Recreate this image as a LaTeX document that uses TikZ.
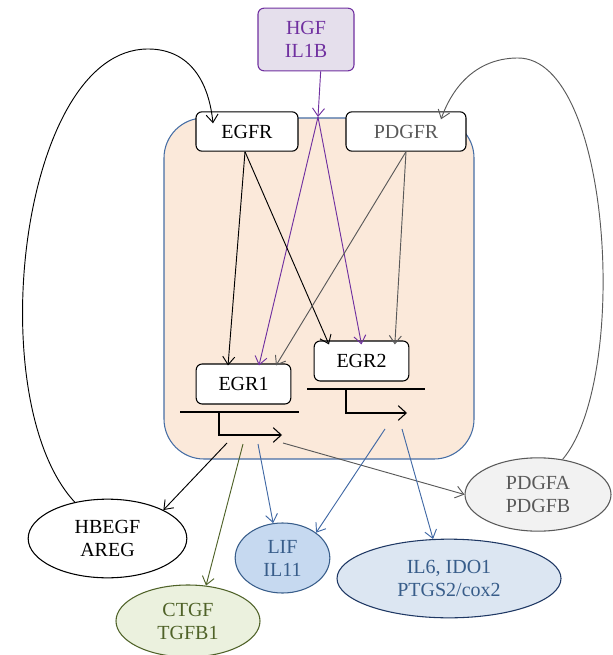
\documentclass[tikz,border=0pt]{standalone}
\usepackage{fontspec}
\setmainfont{Liberation Serif}
\usetikzlibrary{arrows.meta,shapes.geometric}

\definecolor{hgfpurple}{RGB}{112,48,160}
\definecolor{hgffill}{RGB}{229,223,236}
\definecolor{cellfill}{RGB}{251,233,218}
\definecolor{cellline}{RGB}{70,110,165}
\definecolor{pdgfgray}{RGB}{89,89,89}
\definecolor{pdgffill}{RGB}{242,242,242}
\definecolor{ctgfolive}{RGB}{79,98,40}
\definecolor{ctgffill}{RGB}{235,241,222}
\definecolor{lifblue}{RGB}{56,93,138}
\definecolor{liffill}{RGB}{198,217,240}
\definecolor{ilfill}{RGB}{220,230,242}
\definecolor{illine}{RGB}{31,56,100}
\definecolor{arrowblue}{RGB}{65,105,165}

\tikzset{
  sig/.style={-{Straight Barb[length=6pt,width=9pt]},line width=0.7pt},
  recbox/.style={draw,line width=0.8pt,rounded corners=4.5pt,fill=white,inner sep=0pt},
  ligand/.style={ellipse,draw,line width=0.8pt,inner sep=0pt,align=center},
  gene/.style={line width=0.8pt}
}

\begin{document}
\begin{tikzpicture}[x=0.75pt,y=0.75pt,yscale=-1,xscale=1,font=\fontsize{15}{17.25}\selectfont]
\useasboundingbox (0,0) rectangle (612,655);

%Shape: Rounded Rect (cell)
\draw [cellline,fill=cellfill,line width=0.8pt,rounded corners=30pt] (164,118) rectangle (474,459);

% Receptors and ligand box
\node [recbox,draw=hgfpurple,fill=hgffill,text=hgfpurple,align=center,minimum width=72pt,minimum height=47pt] (hgf) at (306,39.5) {HGF\\IL1B};
\node [recbox,minimum width=76.5pt,minimum height=29.5pt] (egfr) at (247,131.5) {EGFR};
\node [recbox,text=pdgfgray,minimum width=90pt,minimum height=29.5pt] (pdgfr) at (406,131.5) {PDGFR};

% Transcription factors
\node [recbox,minimum width=71pt,minimum height=30pt] (egr1) at (243.5,384) {EGR1};
\node [recbox,minimum width=71pt,minimum height=30pt] (egr2) at (361.5,361) {EGR2};

%Straight Lines (genes)
\draw [gene] (180,412) -- (299,412);
\coordinate (prom1) at (219,412);
\draw [gene,-{Straight Barb[length=6pt,width=11pt]}] (prom1) |- (282,435);
\draw [gene] (307,389) -- (425,389);
\coordinate (prom2) at (346,389);
\draw [gene,-{Straight Barb[length=6pt,width=11pt]}] (prom2) |- (407,413);

% Secreted targets
\node [ligand,fill=white,minimum width=119pt,minimum height=59pt] (hbegf) at (107.5,538.5) {HBEGF\\AREG};
\node [ligand,draw=ctgfolive,fill=ctgffill,text=ctgfolive,minimum width=108pt,minimum height=54pt] (ctgf) at (188,621) {CTGF\\TGFB1};
\node [ligand,draw=lifblue,fill=liffill,text=lifblue,minimum width=71pt,minimum height=52.5pt] (lif) at (282.5,558) {LIF\\IL11};
\node [ligand,draw=illine,fill=ilfill,text=lifblue,minimum width=168pt,minimum height=59pt] (il6) at (449,578.5) {IL6, IDO1\\PTGS2/cox2};
\node [ligand,draw=pdgfgray,fill=pdgffill,text=pdgfgray,minimum width=109.5pt,minimum height=55pt] (pdgfa) at (538,494.5) {PDGFA\\PDGFB};

% HGF / IL1B signalling
\coordinate (hgfin) at (318,117);
\draw [sig,hgfpurple] ([xshift=11pt]hgf.south) -- (hgfin);
\draw [sig,hgfpurple] (hgfin) -- ([xshift=11.6pt,yshift=1.5pt]egr1.north);
\draw [sig,hgfpurple] (hgfin) -- ([yshift=3pt]egr2.north);

% EGFR signalling
\draw [sig] ([xshift=-1.5pt]egfr.south) -- ([xshift=-11.6pt,yshift=1.5pt]egr1.north);
\draw [sig] ([xshift=-1.5pt]egfr.south) -- ([xshift=-24.4pt,yshift=3pt]egr2.north);

% PDGFR signalling
\draw [sig,pdgfgray] (pdgfr.south) -- ([xshift=24.4pt,yshift=1.5pt]egr1.north);
\draw [sig,pdgfgray] (pdgfr.south) -- ([xshift=25pt,yshift=3pt]egr2.north);

% EGR1 targets
\coordinate (e1a) at (227,443);
\coordinate (e1b) at (243,444);
\coordinate (e1c) at (258,444);
\coordinate (e1d) at (283,443);
\draw [sig] (e1a) -- (hbegf.27);
\draw [sig,ctgfolive] (e1b) -- (ctgf.63);
\draw [sig,arrowblue] (e1c) -- (lif.105);
\draw [sig,pdgfgray] (e1d) -- (pdgfa.west);

% EGR2 targets
\coordinate (e2a) at (385,429);
\coordinate (e2b) at (402,429);
\draw [sig,arrowblue] (e2a) -- (lif.37);
\draw [sig,arrowblue] (e2b) -- (il6.112);

% autocrine loops
\draw [sig] (hbegf.132) .. controls (-20,400) and (20,49) .. (148,49)
  .. controls (185,49) and (208,75) .. ([xshift=-25.5pt,yshift=9pt]egfr.north);
\draw [sig,pdgfgray] (pdgfa.55) .. controls (630,380) and (612,58) .. (518,58)
  .. controls (482,58) and (455,80) .. ([xshift=26.25pt,yshift=6pt]pdgfr.north);

\end{tikzpicture}
\end{document}
